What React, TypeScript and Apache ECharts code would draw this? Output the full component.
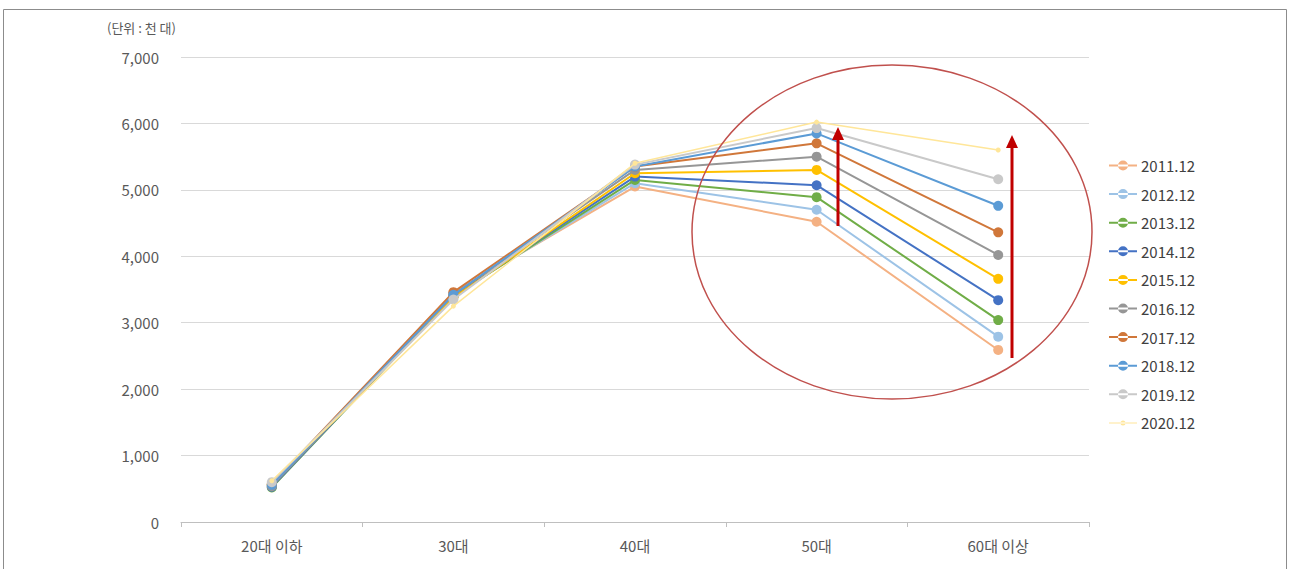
import React, { useEffect, useRef } from "react";
import * as echarts from "echarts";

const categories = ["20대 이하", "30대", "40대", "50대", "60대 이상"];
const seriesNames = ["2011.12", "2012.12", "2013.12", "2014.12", "2015.12", "2016.12", "2017.12", "2018.12", "2019.12", "2020.12"];
const colors = ["#F4B183", "#9DC3E6", "#70AD47", "#4472C4", "#FFC000", "#969696", "#D0773A", "#5B9BD5", "#C9C9C9", "#FFE699"];
const v2011 = [560, 3450, 5050, 4520, 2590];
const v2012 = [550, 3420, 5100, 4700, 2790];
const v2013 = [520, 3400, 5150, 4890, 3040];
const v2014 = [530, 3400, 5200, 5070, 3340];
const v2015 = [560, 3380, 5250, 5300, 3660];
const v2016 = [540, 3420, 5300, 5500, 4020];
const v2017 = [570, 3460, 5350, 5700, 4360];
const v2018 = [560, 3420, 5350, 5850, 4760];
const v2019 = [600, 3350, 5380, 5930, 5160];
const v2020 = [620, 3250, 5400, 6020, 5600];
const allValues = [v2011, v2012, v2013, v2014, v2015, v2016, v2017, v2018, v2019, v2020];
const yTicks = { min: 0, max: 7000, interval: 1000 };
const unitLabel = "(단위 : 천 대)";

const FONT = "'Noto Sans CJK KR', 'Noto Sans', sans-serif";

export default function App() {
  const ref = useRef<HTMLDivElement>(null);
  useEffect(() => {
    if (!ref.current) return;
    const chart = echarts.init(ref.current, null, { renderer: "svg" });
    const arrow = (x: number, y1: number, y2: number) => [
      { type: "line", shape: { x1: x, y1: y1, x2: x, y2: y2 + 10 }, style: { stroke: "#C00000", lineWidth: 3 } },
      { type: "polygon", shape: { points: [[x, y2], [x - 6, y2 + 13], [x + 6, y2 + 13]] }, style: { fill: "#C00000" } },
    ];
    const bigIcon = "path://M0,8 L28,8 L28,10 L0,10 Z M9,9 a5,5 0 1,0 10,0 a5,5 0 1,0 -10,0 Z";
    const smallIcon = "path://M0,8.5 L28,8.5 L28,9.5 L0,9.5 Z M11.5,9 a2.5,2.5 0 1,0 5,0 a2.5,2.5 0 1,0 -5,0 Z";
    chart.setOption({
      animation: false,
      color: colors,
      textStyle: { fontFamily: FONT },
      grid: { left: 181, right: 201, top: 57, bottom: 47 },
      legend: {
        orient: "vertical",
        left: 1104,
        top: 153,
        itemGap: 13.6,
        itemWidth: 28,
        itemHeight: 18,
        textStyle: { fontSize: 15, color: "#404040", fontFamily: FONT, padding: [0, 0, 0, -1] },
        data: seriesNames.map((n, i) => ({ name: n, icon: i === 9 ? smallIcon : bigIcon })),
      },
      xAxis: {
        type: "category",
        data: categories,
        boundaryGap: true,
        axisLine: { lineStyle: { color: "#BFBFBF" } },
        axisTick: { show: true, length: 5, lineStyle: { color: "#BFBFBF" } },
        axisLabel: { fontSize: 15, color: "#595959", margin: 16, fontFamily: FONT },
      },
      yAxis: {
        type: "value",
        min: yTicks.min,
        max: yTicks.max,
        interval: yTicks.interval,
        axisLine: { show: false },
        axisTick: { show: false },
        splitLine: { lineStyle: { color: "#D9D9D9" } },
        axisLabel: {
          fontSize: 15,
          color: "#595959",
          margin: 22,
          fontFamily: FONT,
          formatter: (v: number) => v.toLocaleString("en-US"),
        },
      },
      series: seriesNames.map((name, i) => ({
        name,
        type: "line",
        data: allValues[i],
        symbol: "circle",
        symbolSize: i === 9 ? 5 : 10,
        lineStyle: { width: i === 9 ? 1.5 : 2 },
        z: 2 + i,
      })),
      graphic: [
        { type: "rect", shape: { x: 3.5, y: 9.5, width: 1283, height: 600 }, style: { fill: "none", stroke: "#8C8C8C", lineWidth: 1 }, silent: true },
        { type: "text", left: 107, top: 21, style: { text: unitLabel, fontSize: 13, fill: "#595959", fontFamily: FONT } },
        { type: "ellipse", shape: { cx: 892, cy: 232, rx: 200, ry: 167 }, style: { fill: "none", stroke: "#C0504D", lineWidth: 1.5 } },
        ...arrow(838, 226, 127),
        ...arrow(1012, 358, 135),
      ].map((g: any) => ({ z: 100, ...g })),
    });
    return () => chart.dispose();
  }, []);
  return <div ref={ref} style={{ position: "fixed", left: 0, top: 0, width: 1290, height: 569, background: "#fff" }} />;
}
